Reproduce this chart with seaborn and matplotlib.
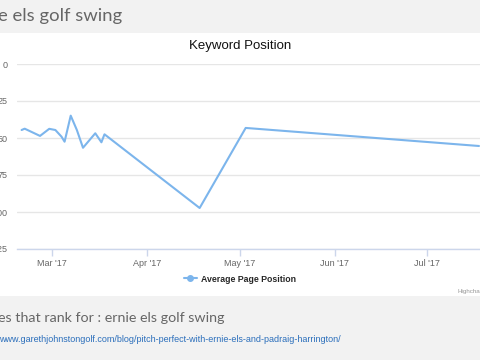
import pandas as pd
import matplotlib
matplotlib.use("Agg")
import matplotlib.pyplot as plt
import matplotlib.dates as mdates
from matplotlib.lines import Line2D
import seaborn as sns

# Keyword position readings (lower is better)
dates = ["2017-02-19", "2017-02-20", "2017-02-25", "2017-02-28", "2017-03-02",
         "2017-03-04", "2017-03-05", "2017-03-07", "2017-03-09", "2017-03-11",
         "2017-03-15", "2017-03-17", "2017-03-18", "2017-04-18", "2017-05-03",
         "2017-07-18"]
positions = [44.6, 43.7, 48.6, 43.8, 44.6, 49.1, 52.5, 34.9, 44.6, 56.6,
             46.8, 52.9, 47.5, 97.3, 43.2, 55.4]
y_ticks = [0, 25, 50, 75, 100, 125]

df = pd.DataFrame({"date": pd.to_datetime(dates), "position": positions})

sns.set_theme(style="white")
plt.rcParams["font.family"] = ["Liberation Sans", "DejaVu Sans"]

fig = plt.figure(figsize=(4.8, 3.6), dpi=100)
fig.patch.set_facecolor("#f2f2f2")

# white chart panel
panel = fig.add_axes([0, 64 / 360, 1, 263 / 360])
panel.set_facecolor("white")
panel.set_xticks([])
panel.set_yticks([])
for s in panel.spines.values():
    s.set_visible(False)

ax = fig.add_axes([17 / 480, 111 / 360, 463 / 480, 185 / 360])
ax.set_facecolor("none")
sns.lineplot(data=df, x="date", y="position", ax=ax, color="#7cb5ec",
             linewidth=1.5, legend=False)

ax.set_ylim(125, 0)
ax.set_yticks(y_ticks)
ax.set_xlim(pd.Timestamp("2017-02-17 12:00"), pd.Timestamp("2017-07-18 08:00"))
ax.xaxis.set_major_locator(mdates.MonthLocator())
ax.xaxis.set_major_formatter(mdates.DateFormatter("%b '%y"))
ax.grid(axis="y", color="#e6e6e6", linewidth=1)
ax.set_axisbelow(True)
for side in ["left", "right", "top"]:
    ax.spines[side].set_visible(False)
ax.spines["bottom"].set_color("#ccd6eb")
ax.spines["bottom"].set_linewidth(1)
ax.tick_params(axis="x", colors="#ccd6eb", length=5, width=1, direction="out",
               labelcolor="#666666", labelsize=6.5, pad=2)
ax.tick_params(axis="y", length=0, labelcolor="#666666", labelsize=6.5, pad=7)
ax.xaxis.set_ticks_position("bottom")
ax.set_xlabel("")
ax.set_ylabel("")

fig.text(0.5, 1 - 46 / 360, "Keyword Position", ha="center", va="center",
         fontsize=9.5, color="#111111")

handle = Line2D([], [], color="#7cb5ec", linewidth=1.5, marker="o",
                markersize=4)
fig.legend([handle], ["Average Page Position"], loc="center",
           bbox_to_anchor=(0.5, 1 - 279 / 360), frameon=False,
           prop={"weight": "bold", "size": 6.3},
           handlelength=1.5, handletextpad=0.5)

fig.text(458 / 480, 1 - 291 / 360, "Highcharts.com", ha="left", va="center",
         fontsize=4.5, color="#999999")

fig.text(-0.004, 1 - 16 / 360, "e els golf swing", ha="left", va="center",
         fontsize=13.3, color="#666666", family=["Lato", "DejaVu Sans"])
fig.text(-0.004, 1 - 318 / 360, "es that rank for : ernie els golf swing",
         ha="left", va="center", fontsize=10.3, color="#666666",
         family=["Lato", "DejaVu Sans"])
fig.text(-0.003, 1 - 340 / 360,
         "www.garethjohnstongolf.com/blog/pitch-perfect-with-ernie-els-and-padraig-harrington/",
         ha="left", va="center", fontsize=6.5, color="#2a6ebb")

fig.savefig("out.png", dpi=100, facecolor=fig.get_facecolor())
